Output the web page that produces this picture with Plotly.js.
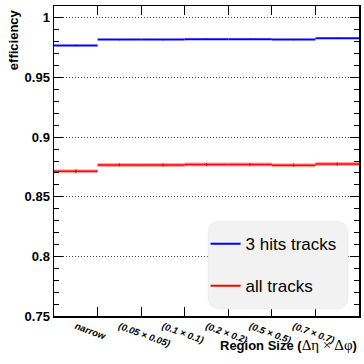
<!DOCTYPE html>
<html>
<head>
<meta charset="utf-8">
<script src="https://cdn.plot.ly/plotly-3.0.1.min.js"></script>
<style>html,body{margin:0;padding:0;background:#fff;}#chart{width:364px;height:364px;}</style>
</head>
<body>
<div id="chart"></div>
<script>
// ---- data ----
var regions = ['narrow', '(0.05 × 0.05)', '(0.1 × 0.1)', '(0.2 × 0.2)', '(0.5 × 0.5)', '(0.7 × 0.7)', 'global'];
var eff3hits = [0.9768, 0.9818, 0.9818, 0.9822, 0.9822, 0.9818, 0.9830];
var err3hits = [0.0006, 0.0005, 0.0005, 0.0005, 0.0005, 0.0005, 0.0005];
var effAll = [0.8714, 0.8767, 0.8767, 0.8770, 0.8770, 0.8764, 0.8775];
var errAll = [0.0015, 0.0012, 0.0012, 0.0012, 0.0012, 0.0012, 0.0012];
var seriesNames = ['3 hits tracks', 'all tracks'];
var yTickVals = [0.75, 0.8, 0.85, 0.9, 0.95, 1];
var yTickText = ['0.75', '0.8', '0.85', '0.9', '0.95', '1'];

var idx = regions.map(function (r, i) { return i; });
var edges = regions.slice(1).map(function (r, i) { return i + 0.5; });
var font = 'Liberation Sans, Arial, Helvetica, sans-serif';

function hist(y, err, color, thick) {
  return {
    x: idx, y: y, type: 'scatter', mode: 'markers', showlegend: false,
    marker: {size: 1, color: 'rgba(0,0,0,0)'},
    error_x: {type: 'constant', value: 0.5, width: 0, thickness: thick, color: color},
    error_y: {type: 'data', array: err, visible: true, width: 0, thickness: 1.2, color: color},
    hoverinfo: 'skip'
  };
}
function legendTrace(name, color, group) {
  return {x: [null], y: [null], type: 'scatter', mode: 'lines', name: name,
    legendgroup: group, line: {color: color, width: 2}};
}

var traces = [
  hist(eff3hits, err3hits, '#0000ff', 2),
  hist(effAll, errAll, 'rgba(255,0,0,0.35)', 4),
  hist(effAll, errAll, '#ff0000', 1.5),
  legendTrace(seriesNames[0], '#0000ff', 'a'),
  legendTrace(seriesNames[1], '#ff0000', 'b')
];

// rounded legend box (paper coords)
var bx0 = 0.505, bx1 = 0.964, by0 = 0.0226, by1 = 0.306, rx = 0.039, ry = 0.0387;
var boxPath = 'M' + (bx0 + rx) + ',' + by1 + ' L' + (bx1 - rx) + ',' + by1 +
  ' Q' + bx1 + ',' + by1 + ' ' + bx1 + ',' + (by1 - ry) +
  ' L' + bx1 + ',' + (by0 + ry) + ' Q' + bx1 + ',' + by0 + ' ' + (bx1 - rx) + ',' + by0 +
  ' L' + (bx0 + rx) + ',' + by0 + ' Q' + bx0 + ',' + by0 + ' ' + bx0 + ',' + (by0 + ry) +
  ' L' + bx0 + ',' + (by1 - ry) + ' Q' + bx0 + ',' + by1 + ' ' + (bx0 + rx) + ',' + by1 + ' Z';

var layout = {
  width: 364, height: 364,
  margin: {l: 54, r: 5, t: 6, b: 48},
  paper_bgcolor: '#ffffff', plot_bgcolor: '#ffffff',
  font: {family: font, color: '#000'},
  showlegend: true,
  legend: {
    x: 0.497, y: 0.29, xanchor: 'left', yanchor: 'top',
    bgcolor: 'rgba(0,0,0,0)', borderwidth: 0,
    font: {family: font, size: 17, color: '#000'},
    traceorder: 'grouped', tracegroupgap: 17, itemwidth: 30
  },
  xaxis: {
    range: [-0.5, 6.5], showgrid: false, zeroline: false,
    tickmode: 'array', tickvals: idx, ticktext: regions, ticks: '', tickangle: 20,
    tickfont: {family: font, size: 9.5, weight: 'bold', style: 'italic'},
    showline: true, linecolor: '#000', linewidth: 1.5, mirror: 'ticks',
    minor: {tickmode: 'array', tickvals: edges, ticks: 'inside', ticklen: 9, tickcolor: '#000', tickwidth: 1, showgrid: false}
  },
  yaxis: {
    range: [0.75, 1.01], zeroline: false,
    tickmode: 'array', tickvals: yTickVals, ticktext: yTickText,
    ticks: 'inside', ticklen: 9, tickcolor: '#000', tickwidth: 1,
    tickfont: {family: font, size: 13, weight: 'bold'},
    showgrid: true, gridcolor: '#444', griddash: '1px,2px', gridwidth: 1,
    showline: true, linecolor: '#000', linewidth: 1.5, mirror: 'ticks',
    minor: {dtick: 0.01, tick0: 0.75, ticks: 'inside', ticklen: 5, tickcolor: '#000', tickwidth: 1, showgrid: false}
  },
  shapes: [{type: 'path', xref: 'paper', yref: 'paper', path: boxPath,
    fillcolor: '#f2f2f2', line: {width: 0.5, color: '#e6e6e6'}, layer: 'above'}],
  annotations: [
    {text: '<b>Region Size (</b><span style="font-family:Liberation Serif;font-size:15px">Δη × Δφ</span><b>)</b>', xref: 'paper', yref: 'paper', x: 1, y: -0.095,
      xanchor: 'right', yanchor: 'middle', showarrow: false, font: {family: font, size: 13}},
    {text: '<b>efficiency</b>', xref: 'paper', yref: 'paper', x: -0.132, y: 0.997,
      xanchor: 'center', yanchor: 'top', textangle: -90, showarrow: false, font: {family: font, size: 13}}
  ]
};

Plotly.newPlot('chart', traces, layout, {staticPlot: true, displayModeBar: false});
</script>
</body>
</html>
